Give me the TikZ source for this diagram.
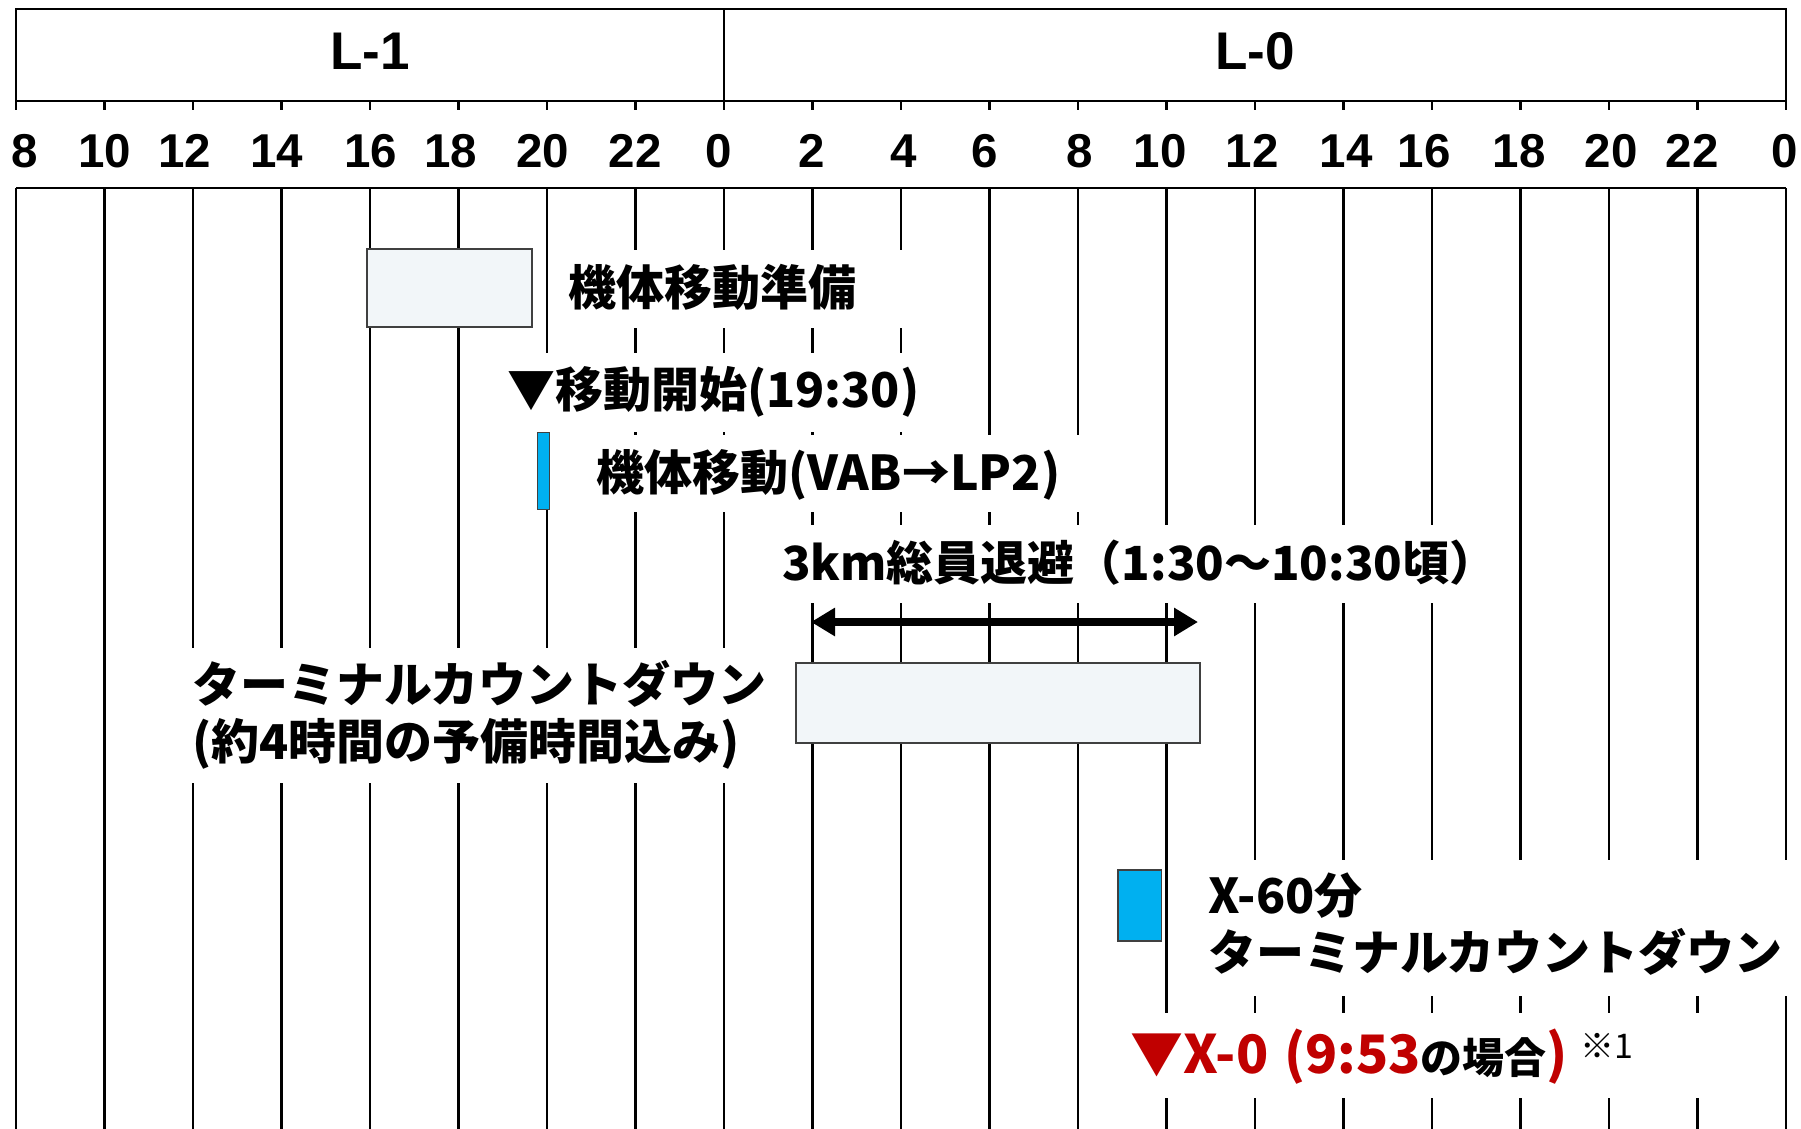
\documentclass[tikz,border=0pt]{standalone}
\usepackage{fontspec}
\setmainfont{Liberation Sans}
\newfontfamily\jp{Noto Sans CJK JP}
\usetikzlibrary{arrows.meta}
\definecolor{xred}{HTML}{C00000}
\definecolor{barfill}{HTML}{F2F6F9}
\definecolor{bluebar}{HTML}{00B0F0}
\definecolor{barline}{HTML}{404040}
\begin{document}
\begin{tikzpicture}[x=1pt,y=-1pt,
  gridline/.style={line width=2.2pt},
  cell/.style={draw, line width=2.5pt, inner sep=0pt, minimum height=92pt,
    text height=38pt, text depth=8pt, font=\bfseries\fontsize{53}{60}\selectfont},
  hour/.style={anchor=base, inner sep=0pt, font=\bfseries\fontsize{47.5}{55}\selectfont},
  lbl/.style={fill=white, anchor=north west, inner ysep=0pt, align=left,
    font=\jp\bfseries\fontsize{48}{57}\selectfont},
  bar/.style={draw=barline, line width=1.5pt, fill=barfill, anchor=north west, inner sep=0pt},
  bbar/.style={draw=barline, line width=1.5pt, fill=bluebar, anchor=north west, inner sep=0pt}]
\useasboundingbox (0,0) rectangle (1801,1129);
\fill[white] (0,0) rectangle (1801,1129);

% header cells
\node[cell, minimum width=708pt] (L1) at (370,55) {L-1};
\node[cell, minimum width=1062pt] (L0) at (1255,55) {L-0};

% ticks and grid
\foreach \i in {0,...,20}{
  \draw[gridline] ({16+88.5*\i},101) -- ({16+88.5*\i},110);
  \draw[gridline] ({16+88.5*\i},188) -- ({16+88.5*\i},1129);
}
\draw[gridline] (16,188) -- (1786,188);

% hour labels
\foreach \x/\t [count=\k] in {25/8,105/10,185/12,277/14,371/16,451/18,543/20,635/22,719/0,
  812/2,904/4,985/6,1080/8,1160/10,1252/12,1346/14,1424/16,1519/18,1611/20,1692/22,1785/0}{
  \node[hour] (h\k) at (\x,167) {\t};
}

% bars
\node[bar, minimum width=165pt, minimum height=78pt] (prep) at (366,248) {};
\node[bbar, minimum width=12pt, minimum height=77pt] (move) at (536.6,431.7) {};
\node[bar, minimum width=404pt, minimum height=80pt] (tcd) at (795,662) {};
\node[bbar, minimum width=43.5pt, minimum height=71pt] (x60) at (1117,869) {};

% labels
\node[lbl, inner xsep=12pt, text width=370pt, text height=55pt, text depth=23pt] (t1) at (556,250) {機体移動準備};
\node[lbl, inner xsep=17pt, text width=406pt, text height=54pt, text depth=25pt] (t2) at (490,353) {▼移動開始(19:30)};
\node[lbl, inner xsep=16pt, text width=498pt, text height=55pt, text depth=22pt] (t3) at (580,435) {機体移動(VAB→LP2)};
\node[lbl, inner xsep=17pt, text width=681pt, text height=55pt, text depth=23pt,
  font=\jp\bfseries\fontsize{47}{57}\selectfont] (t4) at (765,525) {3km総員退避（1:30〜10:30頃）};
\node[lbl, inner xsep=12pt, text width=586pt, text height=54pt, text depth=81pt] (t5) at (180,648) {ターミナルカウントダウン\\(約4時間の予備時間込み)};
\node[lbl, inner xsep=13pt, text width=580pt, text height=53pt, text depth=83pt] (t6) at (1195,860) {X-60分\\ターミナルカウントダウン};
\node[lbl, inner xsep=18pt, text width=592pt, text height=60pt, text depth=25pt] (t7) at (1112,1013)
  {{\color{xred}\fontsize{53}{60}\selectfont ▼X-0 (9:53}{\fontsize{42}{50}\selectfont の場合}{\color{xred}\fontsize{53}{60}\selectfont )}\hspace{12pt}\raisebox{15pt}{\mdseries\fontsize{34}{38}\selectfont ※1}};

% evacuation arrow
\coordinate (evL) at (811,622);
\coordinate (evR) at (1198,622);
\draw[line width=7.5pt, {Triangle[length=24pt,width=27pt]}-{Triangle[length=24pt,width=27pt]}] (evL) -- (evR);
\end{tikzpicture}
\end{document}
